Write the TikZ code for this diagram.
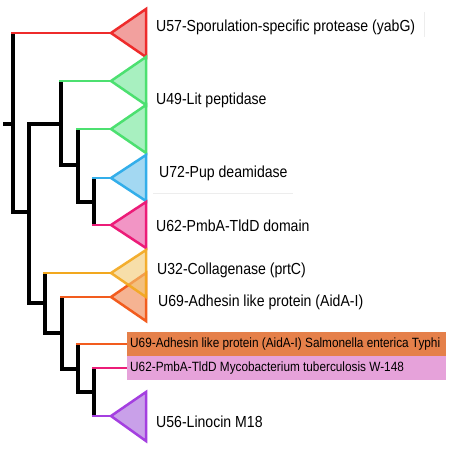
\documentclass[tikz,border=0pt]{standalone}
\usepackage{fontspec}
\setmainfont[FakeStretch=0.88]{Liberation Sans}
\definecolor{redL}{HTML}{EE2B2B}\definecolor{redF}{HTML}{F2A09E}
\definecolor{greenL}{HTML}{4CE070}\definecolor{greenF}{HTML}{A8F0C0}
\definecolor{blueL}{HTML}{33AEEA}\definecolor{blueF}{HTML}{A3D8F2}
\definecolor{pinkL}{HTML}{EC1C78}\definecolor{pinkF}{HTML}{F295C5}
\definecolor{yelL}{HTML}{F2A81E}\definecolor{yelF}{HTML}{F2C870}
\definecolor{oraL}{HTML}{F25C1E}\definecolor{oraF}{HTML}{F29A6E}
\definecolor{purL}{HTML}{A43FE0}\definecolor{purF}{HTML}{C9A0E9}
\definecolor{boxO}{HTML}{E5804A}\definecolor{boxP}{HTML}{E6A2DA}
\begin{document}
\begin{tikzpicture}[x=1pt,y=-1pt,
  edge/.style={line width=3.1pt,line cap=butt,line join=miter,black},
  cedge/.style={line width=2.8pt,line cap=butt,shorten <=-1.55pt},
  clade/.style={line width=2.5pt,line join=miter},
  lab/.style={anchor=west,inner sep=0pt,font=\fontsize{16}{19}\selectfont},
  boxlab/.style={anchor=west,inner sep=0pt,font=\fontsize{13.4}{16}\selectfont},
  faint/.style={line width=0.8pt,black!7}]
\useasboundingbox (0,0) rectangle (450,450);
% internal nodes
\coordinate (S) at (3,124);
\coordinate (R) at (13,124);
\coordinate (N1) at (29,212);
\coordinate (N2) at (61,124);
\coordinate (N3) at (78,165);
\coordinate (N4) at (94,202);
\coordinate (N5) at (45,303);
\coordinate (N6) at (62,333);
\coordinate (N7) at (78,369);
\coordinate (N8) at (94,392);
% leaf apexes
\coordinate (A57) at (111,33);
\coordinate (A49a) at (111,81);
\coordinate (A49b) at (111,129);
\coordinate (A72) at (111,178);
\coordinate (A62) at (111,225);
\coordinate (A32) at (111,273);
\coordinate (A69) at (111,297);
\coordinate (A56) at (111,416);
\coordinate (B69) at (127,344);
\coordinate (B62) at (127,368);
% faint lines
\draw[faint] (424,12) -- (424,37);
\draw[faint] (153,193) -- (293,193);
% boxes
\fill[boxO] (127,332) rectangle (446,356);
\fill[boxP] (127,356) rectangle (446,380);
% black skeleton
\draw[edge] (S) -- (R);
\draw[edge] (R |- A57) -- (R |- N1) -- (N1);
\draw[edge] (N2) -- (N1 |- N2) -- (N1 |- N5) -- (N5);
\draw[edge] (N2 |- A49a) -- (N2 |- N3) -- (N3);
\draw[edge] (N3 |- A49b) -- (N3 |- N4) -- (N4);
\draw[edge] (N4 |- A72) -- (N4 |- A62);
\draw[edge] (N5 |- A32) -- (N5 |- N6) -- (N6);
\draw[edge] (N6 |- A69) -- (N6 |- N7) -- (N7);
\draw[edge] (N7 |- B69) -- (N7 |- N8) -- (N8);
\draw[edge] (N8 |- B62) -- (N8 |- A56);
% coloured branches
\draw[cedge,redL] (R |- A57) -- (A57);
\draw[cedge,greenL] (N2 |- A49a) -- (A49a);
\draw[cedge,greenL] (N3 |- A49b) -- (A49b);
\draw[cedge,blueL] (N4 |- A72) -- (A72);
\draw[cedge,pinkL] (N4 |- A62) -- (A62);
\draw[cedge,yelL] (N5 |- A32) -- (A32);
\draw[cedge,oraL] (N6 |- A69) -- (A69);
\draw[cedge,oraL] (N7 |- B69) -- (B69);
\draw[cedge,pinkL] (N8 |- B62) -- (B62);
\draw[cedge,purL] (N8 |- A56) -- (A56);
% collapsed clades
\draw[clade,redL,fill=redF] (A57) -- ++(35,-24) -- ++(0,48) -- cycle;
\draw[clade,greenL,fill=greenF] (A49a) -- ++(35,-24) -- ++(0,48) -- cycle;
\draw[clade,greenL,fill=greenF] (A49b) -- ++(35,-24) -- ++(0,48) -- cycle;
\draw[clade,blueL,fill=blueF] (A72) -- ++(35,-23) -- ++(0,46) -- cycle;
\draw[clade,pinkL,fill=pinkF] (A62) -- ++(35,-23) -- ++(0,46) -- cycle;
\draw[clade,oraL,fill=oraF,fill opacity=0.75] (A69) -- ++(35,-24) -- ++(0,48) -- cycle;
\draw[clade,yelL,fill=yelF,fill opacity=0.6,draw opacity=0.9] (A32) -- ++(35,-23) -- ++(0,47) -- cycle;
\draw[clade,purL,fill=purF] (A56) -- ++(35,-24) -- ++(0,49) -- cycle;
% labels
\node[lab] (L57) at (156,27) {U57-Sporulation-specific protease (yabG)};
\node[lab] (L49) at (156,100) {U49-Lit peptidase};
\node[lab] (L72) at (159,173) {U72-Pup deamidase};
\node[lab] (L62) at (156,226) {U62-PmbA-TldD domain};
\node[lab] (L32) at (157,270) {U32-Collagenase (prtC)};
\node[lab] (L69) at (158,302) {U69-Adhesin like protein (AidA-I)};
\node[lab] (L56) at (156,422) {U56-Linocin M18};
\node[boxlab] (T69) at (130,344) {U69-Adhesin like protein (AidA-I) Salmonella enterica Typhi};
\node[boxlab] (T62) at (130,368) {U62-PmbA-TldD Mycobacterium tuberculosis W-148};
\end{tikzpicture}
\end{document}
